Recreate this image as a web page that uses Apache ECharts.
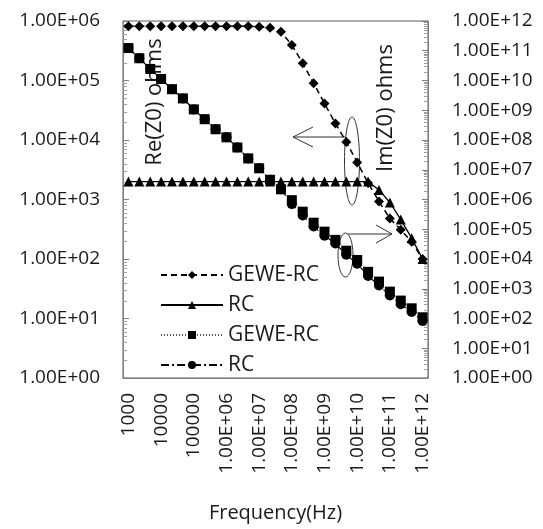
<!DOCTYPE html>
<html>
<head>
<meta charset="utf-8">
<script src="https://cdn.jsdelivr.net/npm/echarts@6/dist/echarts.min.js"></script>
<style>html,body{margin:0;padding:0;background:#fff}#main{width:543px;height:529px}</style>
</head>
<body>
<div id="main"></div>
<script>
// frequency points (Hz), three per decade
var freqs = [1000, 2150, 4640, 10000, 21500, 46400, 100000, 215000, 464000,
  1e6, 2.15e6, 4.64e6, 1e7, 2.15e7, 4.64e7, 1e8, 2.15e8, 4.64e8,
  1e9, 2.15e9, 4.64e9, 1e10, 2.15e10, 4.64e10, 1e11, 2.15e11, 4.64e11, 1e12];

// Re(Z0), left axis
var reGewe = [820000, 820000, 820000, 820000, 820000, 820000, 820000, 820000, 820000,
  820000, 820000, 820000, 800000, 770000, 660000, 395000, 195000, 90000,
  41000, 19000, 9300, 4200, 1900, 930, 480, 310, 195, 100];
var reRc = [2000, 2000, 2000, 2000, 2000, 2000, 2000, 2000, 2000,
  2000, 2000, 2000, 2000, 2000, 2000, 2000, 2000, 2000,
  2000, 2000, 2000, 2000, 2000, 1450, 890, 460, 224, 100];

// Im(Z0), right axis
var imGewe = [1.23e11, 5.6e10, 2.45e10, 1.12e10, 5.1e9, 2.5e9, 1.07e9, 5.0e8, 2.3e8,
  1.23e8, 5.6e7, 2.4e7, 1.12e7, 4.6e6, 2.2e6, 9.5e5, 3.9e5, 1.66e5,
  8.3e4, 4.4e4, 1.9e4, 9.3e3, 3.7e3, 1.74e3, 800, 400, 220, 110];
var imRc = [1.23e11, 5.6e10, 2.45e10, 1.12e10, 5.1e9, 2.5e9, 1.07e9, 5.0e8, 2.3e8,
  1.23e8, 5.6e7, 2.4e7, 1.12e7, 4.6e6, 2.2e6, 7.0e5, 2.9e5, 1.23e5,
  6.1e4, 3.3e4, 1.4e4, 6.9e3, 2.7e3, 1.29e3, 590, 300, 165, 82];

var seriesNames = ['GEWE-RC a', 'RC a', 'GEWE-RC b', 'RC b'];

// minor log ticks (2..9 within each decade)
var minorSteps = [2, 3, 4, 5, 6, 7, 8, 9];
function minorTicks(maxExp) {
  var out = [];
  for (var e = 0; e < maxExp; e++) {
    minorSteps.forEach(function (m) { out.push([0, m * Math.pow(10, e)]); });
  }
  return out;
}

var FONT = 'Open Sans';
var TXT = '#1a1a1a';
var AX = '#7f7f7f';

function expLabel(v) {
  var e = Math.round(Math.log10(v));
  return '1.00E+' + (e < 10 ? '0' : '') + e;
}

function tickSeries(axisIdx, maxExp, onRight) {
  return {
    type: 'custom',
    yAxisIndex: axisIdx,
    data: minorTicks(maxExp),
    silent: true,
    z: 1,
    renderItem: function (params, api) {
      var cs = params.coordSys;
      var y = Math.round(api.coord([0, api.value(1)])[1]) + 0.5;
      var x0 = onRight ? cs.x + cs.width - 4 : cs.x;
      return {type: 'line', shape: {x1: x0, y1: y, x2: x0 + 4, y2: y},
        style: {stroke: '#a0a0a0', lineWidth: 1}};
    }
  };
}

var chart = echarts.init(document.getElementById('main'), null, {renderer: 'canvas'});
var option = {
  animation: false,
  textStyle: {fontFamily: FONT},
  grid: {left: 123, right: 115, top: 21, bottom: 151, show: true, borderColor: '#5a5a5a', borderWidth: 1},
  legend: {
    orient: 'vertical',
    left: 155,
    top: 259,
    itemWidth: 62,
    itemHeight: 10,
    itemGap: 8,
    data: seriesNames,
    formatter: function (name) { return name.split(' ')[0]; },
    textStyle: {fontSize: 21, color: TXT, fontFamily: FONT, lineHeight: 22}
  },
  xAxis: [{
    type: 'category',
    data: freqs.map(String),
    boundaryGap: true,
    name: 'Frequency(Hz)',
    nameLocation: 'middle',
    nameGap: 125,
    nameTextStyle: {fontSize: 20, color: TXT, fontFamily: FONT},
    axisLine: {lineStyle: {color: AX}},
    axisTick: {inside: true, length: 6, interval: 0, lineStyle: {color: AX}},
    axisLabel: {
      rotate: 90,
      margin: 15,
      fontSize: 19,
      color: TXT,
      fontFamily: FONT,
      interval: function (idx) { return idx % 3 === 0; },
      formatter: function (v) {
        var n = Number(v);
        return n < 1e6 ? String(n) : expLabel(n);
      }
    },
    splitLine: {show: false}
  }, {
    type: 'category',
    data: freqs.map(String),
    position: 'bottom',
    axisLine: {show: false},
    axisTick: {inside: true, length: 3, alignWithLabel: true, interval: 0, lineStyle: {color: AX}},
    axisLabel: {show: false},
    splitLine: {show: false}
  }],
  yAxis: [{
    type: 'log',
    logBase: 10,
    min: 1,
    max: 1e6,
    interval: 1,
    axisLine: {show: true, lineStyle: {color: AX}},
    axisTick: {show: true, inside: true, length: 6, lineStyle: {color: AX}},
    axisLabel: {fontSize: 19, color: TXT, fontFamily: FONT, margin: 23, formatter: expLabel},
    splitLine: {show: false}
  }, {
    type: 'log',
    logBase: 10,
    min: 1,
    max: 1e12,
    interval: 1,
    position: 'right',
    axisLine: {show: true, lineStyle: {color: AX}},
    axisTick: {show: true, inside: true, length: 6, lineStyle: {color: AX}},
    axisLabel: {fontSize: 19, color: TXT, fontFamily: FONT, margin: 24, formatter: expLabel, hideOverlap: false},
    splitLine: {show: false}
  }],
  series: [{
    name: seriesNames[0],
    type: 'line',
    yAxisIndex: 0,
    data: reGewe,
    symbol: 'diamond',
    symbolSize: 10,
    showAllSymbol: true,
    itemStyle: {color: '#000'},
    lineStyle: {color: '#000', width: 1.5, type: [6, 4]}
  }, {
    name: seriesNames[1],
    type: 'line',
    yAxisIndex: 0,
    data: reRc,
    symbol: 'triangle',
    symbolSize: 10,
    showAllSymbol: true,
    itemStyle: {color: '#000'},
    lineStyle: {color: '#000', width: 1.3, type: 'solid'}
  }, {
    name: seriesNames[2],
    type: 'line',
    yAxisIndex: 1,
    data: imGewe,
    symbol: 'rect',
    symbolSize: 10,
    showAllSymbol: true,
    itemStyle: {color: '#000'},
    lineStyle: {color: '#555', width: 1, type: [1, 2]}
  }, {
    name: seriesNames[3],
    type: 'line',
    yAxisIndex: 1,
    data: imRc,
    symbol: 'circle',
    symbolSize: 10,
    showAllSymbol: true,
    itemStyle: {color: '#000'},
    lineStyle: {color: '#000', width: 1.2, type: [8, 3, 2, 3]}
  },
  tickSeries(0, 6, false),
  tickSeries(1, 12, true)],
  graphic: [
    {type: 'text', x: 155, y: 102, rotation: Math.PI / 2,
      style: {text: 'Re(Z0) ohms', font: '22px "Open Sans"', fill: TXT, align: 'center', verticalAlign: 'middle'}},
    {type: 'text', x: 386, y: 108, rotation: Math.PI / 2,
      style: {text: 'Im(Z0) ohms', font: '22px "Open Sans"', fill: TXT, align: 'center', verticalAlign: 'middle'}},
    {type: 'ellipse', shape: {cx: 352, cy: 161, rx: 7.5, ry: 44},
      style: {fill: 'none', stroke: '#333', lineWidth: 1}},
    {type: 'polyline', shape: {points: [[346, 137], [293, 137]]},
      style: {fill: 'none', stroke: '#333', lineWidth: 1}},
    {type: 'polyline', shape: {points: [[313, 127], [293, 137], [313, 147]]},
      style: {fill: 'none', stroke: '#333', lineWidth: 1}},
    {type: 'ellipse', shape: {cx: 345.5, cy: 255, rx: 7.5, ry: 22},
      style: {fill: 'none', stroke: '#333', lineWidth: 1}},
    {type: 'polyline', shape: {points: [[348, 234], [392, 234]]},
      style: {fill: 'none', stroke: '#333', lineWidth: 1}},
    {type: 'polyline', shape: {points: [[376, 225], [392, 234], [376, 243]]},
      style: {fill: 'none', stroke: '#333', lineWidth: 1}}
  ]
};
chart.setOption(option);
</script>
</body>
</html>
